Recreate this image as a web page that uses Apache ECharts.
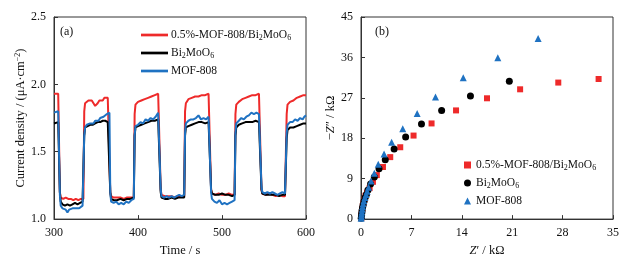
<!DOCTYPE html>
<html>
<head>
<meta charset="utf-8">
<script src="https://cdn.jsdelivr.net/npm/echarts@6/dist/echarts.min.js"></script>
<style>
  html, body { margin: 0; padding: 0; background: #fff; }
  #chart { width: 628px; height: 262px; }
</style>
</head>
<body>
<div id="chart"></div>
<script>
const seriesNames = ['0.5%-MOF-808/Bi2MoO6', 'Bi2MoO6', 'MOF-808']

// (a) photocurrent, [time s, current density]
const redCurrent = [[300,1.93],[302,1.92],[305,1.93],[306,1.93],[307,1.20],[308,1.16],[311,1.15],[314,1.16],[317,1.15],[320,1.15],[323,1.14],[326,1.15],[329,1.14],[332,1.15],[334,1.14],[335,1.15],[336,1.80],[337,1.86],[339,1.87],[341,1.88],[343,1.87],[345,1.88],[347,1.87],[349,1.84],[350,1.83],[352,1.86],[354,1.88],[356,1.89],[358,1.88],[360,1.90],[362,1.91],[364,1.90],[366,1.91],[367,1.20],[368,1.17],[371,1.16],[375,1.16],[379,1.16],[383,1.15],[387,1.16],[391,1.16],[395,1.16],[396,1.78],[397,1.85],[400,1.87],[404,1.88],[408,1.89],[412,1.90],[416,1.91],[420,1.92],[424,1.93],[426,1.93],[427,1.22],[428,1.18],[432,1.17],[436,1.17],[440,1.17],[444,1.16],[448,1.17],[452,1.17],[455,1.17],[456,1.80],[457,1.86],[460,1.89],[464,1.90],[468,1.91],[472,1.91],[476,1.92],[480,1.92],[484,1.93],[486,1.93],[487,1.22],[488,1.19],[492,1.18],[496,1.19],[500,1.18],[504,1.18],[508,1.19],[512,1.18],[515,1.18],[516,1.78],[517,1.85],[520,1.87],[524,1.89],[528,1.90],[532,1.91],[536,1.92],[540,1.92],[544,1.93],[546,1.93],[547,1.22],[548,1.19],[552,1.18],[556,1.19],[560,1.18],[564,1.17],[568,1.18],[572,1.17],[575,1.17],[577,1.78],[578,1.85],[581,1.87],[585,1.88],[589,1.90],[593,1.91],[597,1.92],[600,1.92]]
const blackCurrent = [[300,1.71],[302,1.72],[305,1.72],[306,1.73],[307,1.20],[308,1.13],[310,1.11],[313,1.10],[316,1.11],[319,1.10],[322,1.11],[325,1.12],[328,1.11],[331,1.12],[334,1.13],[335,1.13],[336,1.62],[337,1.68],[340,1.69],[343,1.70],[346,1.70],[349,1.71],[352,1.72],[355,1.72],[358,1.73],[361,1.73],[364,1.72],[366,1.71],[367,1.20],[368,1.15],[371,1.14],[375,1.14],[379,1.15],[383,1.14],[387,1.15],[391,1.15],[395,1.16],[396,1.62],[397,1.68],[400,1.69],[404,1.70],[408,1.71],[412,1.72],[416,1.73],[420,1.73],[424,1.74],[426,1.74],[427,1.20],[428,1.16],[432,1.15],[436,1.15],[440,1.16],[444,1.15],[448,1.16],[452,1.16],[455,1.16],[456,1.62],[457,1.68],[460,1.69],[464,1.70],[468,1.71],[472,1.72],[476,1.72],[480,1.71],[484,1.72],[486,1.72],[487,1.22],[488,1.19],[492,1.18],[496,1.18],[500,1.19],[504,1.18],[508,1.18],[512,1.17],[515,1.18],[516,1.62],[517,1.68],[520,1.70],[524,1.71],[528,1.72],[532,1.72],[536,1.72],[540,1.73],[544,1.72],[546,1.72],[547,1.22],[548,1.19],[552,1.18],[556,1.18],[560,1.18],[564,1.18],[568,1.17],[572,1.18],[575,1.18],[577,1.60],[578,1.66],[581,1.68],[585,1.68],[589,1.69],[593,1.70],[597,1.71],[600,1.71]]
const blueCurrent = [[300,1.79],[302,1.79],[305,1.80],[306,1.79],[307,1.18],[308,1.10],[310,1.08],[312,1.09],[314,1.07],[316,1.05],[318,1.07],[320,1.06],[322,1.08],[324,1.07],[326,1.08],[328,1.09],[330,1.08],[332,1.09],[334,1.10],[335,1.09],[336,1.62],[337,1.68],[339,1.70],[341,1.69],[343,1.71],[345,1.72],[347,1.71],[349,1.73],[351,1.74],[353,1.73],[355,1.75],[357,1.76],[359,1.76],[361,1.77],[363,1.78],[365,1.79],[366,1.79],[367,1.20],[368,1.13],[371,1.12],[374,1.13],[377,1.11],[380,1.12],[383,1.11],[386,1.13],[389,1.12],[392,1.14],[395,1.15],[396,1.62],[397,1.69],[400,1.70],[403,1.72],[406,1.71],[409,1.74],[412,1.73],[415,1.75],[418,1.74],[421,1.76],[424,1.79],[426,1.78],[427,1.22],[428,1.17],[431,1.16],[434,1.17],[437,1.16],[440,1.17],[443,1.16],[446,1.17],[449,1.18],[452,1.17],[455,1.18],[456,1.64],[457,1.71],[460,1.73],[463,1.74],[466,1.74],[469,1.75],[472,1.77],[475,1.74],[478,1.75],[481,1.74],[484,1.76],[486,1.75],[487,1.20],[488,1.15],[491,1.13],[494,1.12],[497,1.14],[500,1.11],[503,1.12],[506,1.11],[509,1.12],[512,1.13],[515,1.14],[516,1.64],[517,1.71],[520,1.73],[523,1.75],[526,1.74],[529,1.76],[532,1.77],[535,1.79],[538,1.78],[541,1.79],[544,1.78],[546,1.78],[547,1.24],[548,1.20],[551,1.19],[554,1.20],[557,1.19],[560,1.20],[563,1.19],[566,1.18],[569,1.19],[572,1.20],[575,1.19],[577,1.64],[578,1.70],[581,1.72],[584,1.72],[587,1.74],[590,1.73],[593,1.75],[596,1.74],[598,1.76],[600,1.77]]

// (b) Nyquist, [Z' kOhm, -Z'' kOhm]
const redNyquist = [[0.05,0.3],[0.08,0.9],[0.12,1.5],[0.18,2.2],[0.25,2.9],[0.35,3.6],[0.48,4.4],[0.62,5.2],[0.83,5.9],[1.2,6.9],[1.66,8.3],[2.2,9.8],[3.05,11.6],[4.06,13.8],[5.45,16.0],[7.3,18.6],[9.8,21.3],[13.2,24.2],[17.5,26.9],[22.1,28.9],[27.4,30.4],[33.0,31.2]]
const blackNyquist = [[0.03,0.2],[0.06,0.7],[0.1,1.3],[0.15,1.9],[0.22,2.6],[0.3,3.2],[0.42,4.0],[0.58,4.8],[0.75,5.5],[0.97,6.5],[1.33,7.8],[1.85,9.4],[2.5,11.2],[3.37,13.2],[4.6,15.6],[6.2,18.3],[8.4,21.2],[11.2,24.2],[15.2,27.4],[20.6,30.7]]
const blueNyquist = [[0.02,0.2],[0.05,0.6],[0.08,1.1],[0.12,1.6],[0.17,2.2],[0.23,2.8],[0.3,3.4],[0.4,4.1],[0.55,4.8],[0.7,5.5],[0.85,6.2],[1.05,7.1],[1.4,8.5],[1.85,10.2],[2.4,12.2],[3.2,14.5],[4.25,17.1],[5.8,20.1],[7.8,23.5],[10.35,27.2],[14.2,31.5],[19.0,35.9],[24.6,40.2]]

const font = "'Liberation Serif', 'Times New Roman', serif"
const red = '#ee2a2a'
const black = '#000000'
const blue = '#1f72c2'
const axisColor = '#333'

const richText = {
  sub: { fontSize: 8, fontFamily: font, color: '#111', verticalAlign: 'bottom', lineHeight: 8, padding: [4, 0, 0, 0] },
  sup: { fontSize: 8, fontFamily: font, color: '#111', verticalAlign: 'top', lineHeight: 8, padding: [0, 0, 4, 0] },
  i: { fontSize: 12.5, fontFamily: font, fontStyle: 'italic', color: '#111' },
}

const legendLabel = (name) =>
  name.replace('Bi2MoO6', 'Bi{sub|2}MoO{sub|6}')

const axisCommon = {
  axisLine: { show: true, lineStyle: { color: axisColor, width: 1 } },
  axisTick: { show: true, inside: true, length: 4, lineStyle: { color: axisColor } },
  axisLabel: { color: '#111', fontFamily: font, fontSize: 12 },
  splitLine: { show: false },
  nameTextStyle: { color: '#111', fontFamily: font, fontSize: 12.5, rich: richText },
  nameLocation: 'middle',
}

const chart = echarts.init(document.getElementById('chart'))

chart.setOption({
  animation: false,
  backgroundColor: '#fff',
  textStyle: { fontFamily: font },
  grid: [
    { left: 54, right: 322, top: 17, bottom: 39, show: true, borderColor: axisColor, borderWidth: 1 },
    { left: 361, right: 15, top: 17, bottom: 39, show: true, borderColor: axisColor, borderWidth: 1 },
  ],
  xAxis: [
    { ...axisCommon, gridIndex: 0, type: 'value', min: 300, max: 600, interval: 100, name: 'Time / s', nameGap: 18 },
    { ...axisCommon, gridIndex: 1, type: 'value', min: 0, max: 35, interval: 7, name: "{i|Z}′ / kΩ", nameGap: 18 },
  ],
  yAxis: [
    { ...axisCommon, gridIndex: 0, type: 'value', min: 1.0, max: 2.5, interval: 0.5, nameGap: 24,
      axisLabel: { ...axisCommon.axisLabel, formatter: (v) => v.toFixed(1) },
      name: 'Current density / (μA·cm{sup|−2})' },
    { ...axisCommon, gridIndex: 1, type: 'value', min: 0, max: 45, interval: 9, nameGap: 22,
      name: '−{i|Z}″ / kΩ' },
  ],
  legend: [
    {
      orient: 'vertical', left: 136, top: 23, itemGap: 4, itemWidth: 27, itemHeight: 13,
      data: seriesNames.map((n) => ({ name: n, icon: 'path://M0,0 L10,0 L10,1 L0,1 Z' })),
      formatter: legendLabel,
      textStyle: { fontFamily: font, fontSize: 11.5, color: '#111', lineHeight: 14, padding: [0, 0, 0, -2], rich: richText },
    },
    {
      orient: 'vertical', left: 459, top: 153, itemGap: 4, itemWidth: 7, itemHeight: 7,
      data: seriesNames.map((n) => n + ' '),
      formatter: (n) => legendLabel(n.trim()),
      textStyle: { fontFamily: font, fontSize: 11.5, color: '#111', lineHeight: 14, rich: richText },
    },
  ],
  graphic: [
    { type: 'text', left: 60, top: 26, style: { text: '(a)', font: '12px ' + font, fill: '#111' } },
    { type: 'text', left: 375, top: 26, style: { text: '(b)', font: '12px ' + font, fill: '#111' } },
  ],
  series: [
    { name: seriesNames[0], type: 'line', xAxisIndex: 0, yAxisIndex: 0, data: redCurrent,
      symbol: 'none', color: red, lineStyle: { width: 2 } },
    { name: seriesNames[1], type: 'line', xAxisIndex: 0, yAxisIndex: 0, data: blackCurrent,
      symbol: 'none', color: black, lineStyle: { width: 2 } },
    { name: seriesNames[2], type: 'line', xAxisIndex: 0, yAxisIndex: 0, data: blueCurrent,
      symbol: 'none', color: blue, lineStyle: { width: 2 } },
    { name: seriesNames[0] + ' ', type: 'scatter', xAxisIndex: 1, yAxisIndex: 1, data: redNyquist,
      symbol: 'rect', symbolSize: 6, itemStyle: { color: red, opacity: 1 } },
    { name: seriesNames[1] + ' ', type: 'scatter', xAxisIndex: 1, yAxisIndex: 1, data: blackNyquist,
      symbol: 'circle', symbolSize: 7, itemStyle: { color: black, opacity: 1 } },
    { name: seriesNames[2] + ' ', type: 'scatter', xAxisIndex: 1, yAxisIndex: 1, data: blueNyquist,
      symbol: 'triangle', symbolSize: 7, itemStyle: { color: blue, opacity: 1 } },
  ],
})
</script>
</body>
</html>
